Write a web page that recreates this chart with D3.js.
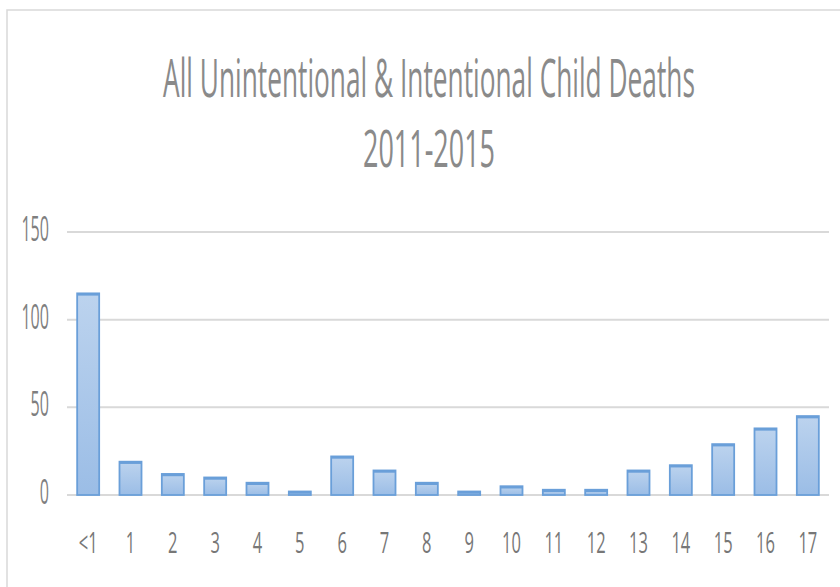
<!DOCTYPE html>
<html>
<head>
<meta charset="utf-8">
<script src="https://cdn.jsdelivr.net/npm/d3@7"></script>
<style>
  html, body { margin: 0; padding: 0; background: #fff; }
  svg { display: block; }
</style>
</head>
<body>
<svg id="chart" width="840" height="587"></svg>
<script>
const categories = ["<1","1","2","3","4","5","6","7","8","9","10","11","12","13","14","15","16","17"];
const deaths = [115,19,12,10,7,2,22,14,7,2,5,3,3,14,17,29,38,45];
const yTicks = [0,50,100,150];
const titleLines = ["All Unintentional & Intentional Child Deaths", "2011-2015"];

const svg = d3.select("#chart");
const W = 840, H = 587;
const plot = {left: 67, right: 829, top: 232, bottom: 495};

// chart frame
svg.append("rect").attr("x", 7).attr("y", 10).attr("width", W + 20).attr("height", H + 20)
  .attr("fill", "#fff").attr("stroke", "#d9d9d9").attr("stroke-width", 1.5);

const defs = svg.append("defs");
const grad = defs.append("linearGradient").attr("id", "barGrad")
  .attr("x1", 0).attr("y1", 0).attr("x2", 0).attr("y2", 1);
grad.append("stop").attr("offset", "0%").attr("stop-color", "#bcd3ee");
grad.append("stop").attr("offset", "100%").attr("stop-color", "#9bbde6");

const x = d3.scaleBand().domain(categories).range([plot.left, plot.right])
  .paddingInner(0.48).paddingOuter(0.24);
const y = d3.scaleLinear().domain([0, 150]).range([plot.bottom, plot.top]);

// gridlines
svg.append("g").selectAll("line").data(yTicks).join("line")
  .attr("x1", plot.left).attr("x2", plot.right)
  .attr("y1", d => y(d)).attr("y2", d => y(d))
  .attr("stroke", "#d9d9d9").attr("stroke-width", 2);

// bars
svg.append("g").selectAll("rect").data(deaths).join("rect")
  .attr("x", (d, i) => x(categories[i]))
  .attr("width", x.bandwidth())
  .attr("y", d => y(d))
  .attr("height", d => y(0) - y(d))
  .attr("fill", "url(#barGrad)")
  .attr("stroke", "#6a9fd9").attr("stroke-width", 1.8);

// bar top edge lines
svg.append("g").selectAll("line").data(deaths).join("line")
  .attr("x1", (d, i) => x(categories[i]))
  .attr("x2", (d, i) => x(categories[i]) + x.bandwidth())
  .attr("y1", d => y(d) + 1).attr("y2", d => y(d) + 1)
  .attr("stroke", "#6a9fd9").attr("stroke-width", 2.5);

const font = "'Open Sans', 'Liberation Sans', sans-serif";
const textColor = "#7f7f7f";

// y tick labels
svg.append("g").selectAll("text").data(yTicks).join("text")
  .attr("transform", d => `translate(49,${y(d) + 9}) scale(0.46,1)`)
  .attr("text-anchor", "end")
  .attr("font-family", font).attr("font-size", 35)
  .attr("fill", textColor)
  .text(d => d);

// x tick labels
svg.append("g").selectAll("text").data(categories).join("text")
  .attr("transform", d => `translate(${x(d) + x.bandwidth() / 2},553) scale(0.57,1)`)
  .attr("text-anchor", "middle")
  .attr("font-family", font).attr("font-size", 29)
  .attr("fill", "#777777")
  .text(d => d);

// title: condensed horizontally to the widths seen in the reference
function condensedTitle(str, cx, by, size, targetW) {
  const t = svg.append("text")
    .attr("text-anchor", "middle")
    .attr("font-family", font).attr("font-size", size)
    .attr("fill", "#8a8a8a")
    .text(str);
  const len = t.node().getComputedTextLength();
  t.attr("transform", `translate(${cx},${by}) scale(${targetW / len},1)`);
}
condensedTitle(titleLines[0], 429, 97, 53, 532);
condensedTitle(titleLines[1], 429, 167, 52, 132);
</script>
</body>
</html>
